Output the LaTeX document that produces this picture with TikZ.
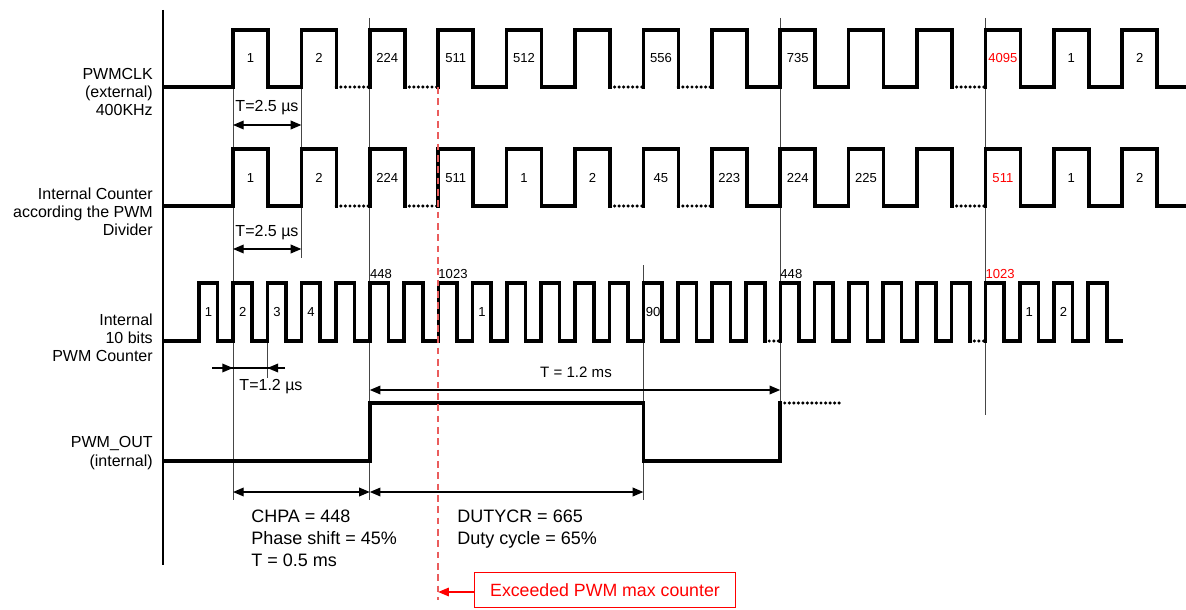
\documentclass[tikz,border=0pt]{standalone}
\usepackage{fontspec}
\setmainfont{Liberation Sans}
\usepackage{tikz}
\usetikzlibrary{arrows.meta}
\definecolor{alarm}{RGB}{255,0,0}
\definecolor{marker}{RGB}{234,92,92}
\definecolor{guide}{RGB}{70,70,70}
\tikzset{>={Triangle[length=8pt,width=6.5pt]}}
\tikzset{
	wave/.style={line width=2.7pt, line cap=rect},
	gap/.style={line width=2.6pt, line cap=round, dash pattern=on 0pt off 3.4pt},
	guideline/.style={guide, line width=0.6pt},
	dim/.style={line width=1pt, <->},
	sig/.style={font=\fontsize{12}{13.7}\selectfont, align=right, anchor=east, inner sep=0pt},
	cnt/.style={font=\fontsize{9.8}{11}\selectfont, inner sep=0pt},
	dimtext/.style={font=\fontsize{12}{14}\selectfont, inner sep=0pt},
	note/.style={font=\fontsize{13.5}{16.5}\selectfont, align=left, anchor=north west, inner sep=0pt},
	alertbox/.style={draw=alarm, text=alarm, line width=0.8pt, minimum width=196pt, minimum height=26pt, font=\fontsize{13.3}{15}\selectfont},
}

\begin{document}
\begin{tikzpicture}[x=0.75pt, y=-0.75pt]

	\useasboundingbox (0,0) rectangle (1186,610);

	\draw[line width=1.4pt] (163,10) -- (163,565);

	\draw[guideline] (233,87) -- (233,500);
	\draw[guideline] (301.4,87) -- (301.4,258);
	\draw[guideline] (267.4,341) -- (267.4,378);
	\draw[guideline] (369.8,18) -- (369.8,500);
	\draw[guideline] (643.4,265) -- (643.4,500);
	\draw[guideline] (780.2,18) -- (780.2,461);
	\draw[guideline] (985.4,18) -- (985.4,415);

	\foreach \yl in {87,206} {
		\draw[wave] (165,\yl) -- (233,\yl);
		\draw[wave] (1157.2,\yl) -- (1186,\yl);
		\foreach \k in {0,...,13}
			\draw[wave] ({233+68.4*\k},\yl) -- ++(0,-57) -- ++(35,0) -- ++(0,57);
		\foreach \k in {0,3,4,7,8,9,11,12}
			\draw[wave] ({268+68.4*\k},\yl) -- ++(33.4,0);
		\foreach \k in {1,2,5,6,10}
			\draw[gap] ({268+68.4*\k},\yl) -- ++(33.4,0);
	}

	\draw[wave] (165,341) -- (199,341);
	\foreach \k in {0,...,26}
		\draw[wave] ({199+34.2*\k},341) -- ++(0,-58) -- ++(18.5,0) -- ++(0,58);
	\foreach \k in {0,1,2,3,4,5,6,7,8,9,10,11,12,13,14,15,17,18,19,20,21,23,24,25}
		\draw[wave] ({217.5+34.2*\k},341) -- ++(15.7,0);
	\foreach \k in {16,22}
		\draw[gap] ({217.5+34.2*\k},341) -- ++(15.7,0);
	\draw[wave] (1106.7,341) -- (1121,341);

	\draw[wave] (165,461) -- (369.8,461) -- (369.8,403) -- (643.4,403) -- (643.4,461) -- (780.2,461) -- (780.2,403);
	\draw[gap] (780.2,403) -- (840,403);

	\foreach \m/\txt in {0/1,1/2,2/224,3/511,4/512,6/556,8/735,12/1,13/2}
		\node[cnt] (clk\m) at ({250.5+68.4*\m},58) {\txt};
	\node[cnt, text=alarm] (clkmax) at ({250.5+68.4*11},58) {4095};

	\foreach \m/\txt in {0/1,1/2,2/224,3/511,4/1,5/2,6/45,7/223,8/224,9/225,12/1,13/2}
		\node[cnt] (div\m) at ({250.5+68.4*\m},178) {\txt};
	\node[cnt, text=alarm] (divmax) at ({250.5+68.4*11},178) {511};

	\foreach \k/\txt in {0/1,1/2,2/3,3/4,8/1,13/90,24/1,25/2}
		\node[cnt] (pwm\k) at ({208.5+34.2*\k},312) {\txt};
	\node[cnt, anchor=west] (phaseA) at (369.8,274) {448};
	\node[cnt, anchor=west] (topA) at (438.2,274) {1023};
	\node[cnt, anchor=west] (phaseB) at (780.2,274) {448};
	\node[cnt, anchor=west, text=alarm] (topB) at (985.4,274) {1023};

	\node[sig] (clklabel) at (153,92) {PWMCLK\\(external)\\400KHz};
	\node[sig] (divlabel) at (153,212) {Internal Counter\\according the PWM\hspace*{4pt}\\Divider};
	\node[sig] (pwmlabel) at (153,338) {Internal\\10 bits\\PWM Counter};
	\node[sig] (outlabel) at (153,453) {PWM\_OUT\\(internal)};

	\coordinate (clkA) at (233,125);
	\coordinate (clkB) at (301.4,125);
	\draw[dim] (clkA) -- (clkB);
	\node[dimtext] (clkT) at (267,108) {T=2.5 µs};

	\coordinate (divA) at (233,249);
	\coordinate (divB) at (301.4,249);
	\draw[dim] (divA) -- (divB);
	\node[dimtext] (divT) at (267,233) {T=2.5 µs};

	\coordinate (pwmA) at (233,368);
	\coordinate (pwmB) at (267.4,368);
	\draw[line width=1pt] (212,368) -- (285,368);
	\draw[line width=1pt, ->] (212,368) -- (pwmA);
	\draw[line width=1pt, ->] (285,368) -- (pwmB);
	\node[dimtext] (pwmT) at (271,387) {T=1.2 µs};

	\coordinate (perA) at (369.8,390);
	\coordinate (perB) at (780.2,390);
	\draw[dim] (perA) -- (perB);
	\node[font=\fontsize{11.3}{13}\selectfont, inner sep=0pt] (perT) at (576,372) {T = 1.2 ms};

	\coordinate (chpaA) at (233,492);
	\coordinate (chpaB) at (369.8,492);
	\coordinate (dutyB) at (643.4,492);
	\draw[dim] (chpaA) -- (chpaB);
	\draw[dim] (chpaB) -- (dutyB);
	\node[note] (chpa) at (251,510) {CHPA = 448\\Phase shift = 45\%\\T = 0.5 ms};
	\node[note] (duty) at (457,510) {DUTYCR = 665\\Duty cycle = 65\%};

	\draw[marker, line width=1.1pt, dash pattern=on 5pt off 3.5pt] (438.2,87) -- (438.2,600);

	\node[alertbox] (exceed) at (605,590) {Exceeded PWM max counter};
	\coordinate (maxline) at (438.2,592);
	\draw[alarm, line width=0.8pt, ->] (exceed.west |- maxline) -- (maxline);

\end{tikzpicture}
\end{document}
